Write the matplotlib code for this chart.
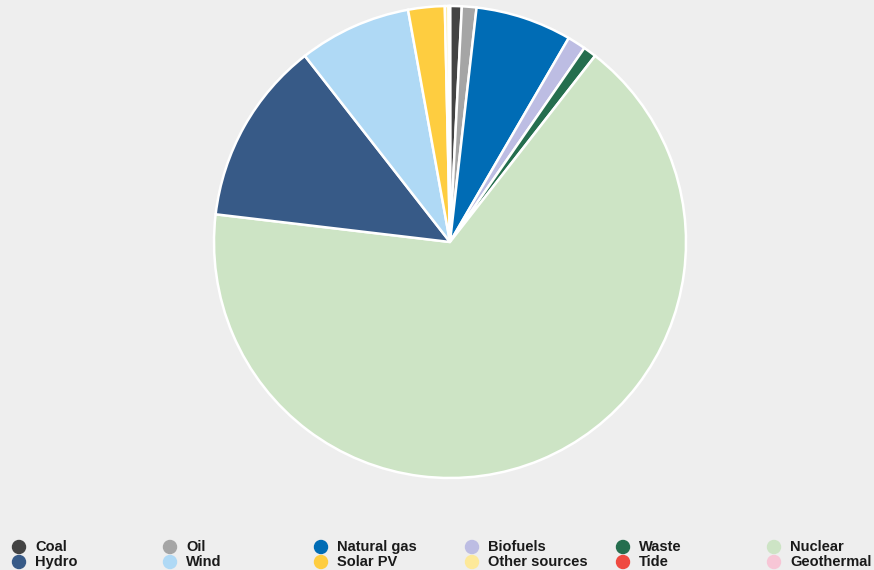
import matplotlib.pyplot as plt
from matplotlib.patches import Ellipse

# share of generation (percent)
labels = ['Coal', 'Oil', 'Natural gas', 'Biofuels', 'Waste', 'Nuclear',
          'Hydro', 'Wind', 'Solar PV', 'Other sources', 'Tide', 'Geothermal']
shares = [0.8, 1.0, 6.6, 1.25, 0.9, 66.4, 12.6, 7.7, 2.5, 0.25, 0.09, 0.01]
colors = ['#434343', '#a5a5a5', '#006cb5', '#bdbde3', '#256e4e', '#cde4c5',
          '#375a87', '#afd9f5', '#fecd40', '#fde99a', '#ef4a40', '#f7c6d6']

bg = '#eeeeee'
W, H = 874, 570
fig = plt.figure(figsize=(W / 100, H / 100), dpi=100, facecolor=bg)

# pie centre ~ (450, 242) px, radius ~236 px
cx, cy, r = 450, 242, 236
ax = fig.add_axes([(cx - r) / W, (H - cy - r) / H, 2 * r / W, 2 * r / H])
ax.set_facecolor(bg)
ax.pie(shares, colors=colors, startangle=90, counterclock=False,
       wedgeprops=dict(edgecolor='white', linewidth=1.8))
ax.set_xlim(-1.0, 1.0)
ax.set_ylim(-1.0, 1.0)
ax.axis('off')

# legend: 6 columns, 2 rows, filled row by row
for i, (lab, col) in enumerate(zip(labels, colors)):
    row, c = divmod(i, 6)
    x = 19 + c * 151
    y = 547 + row * 15
    fig.patches.append(Ellipse((x / W, 1 - y / H), 13 / W, 13 / H,
                               transform=fig.transFigure, color=col,
                               figure=fig))
    fig.text((x + 16) / W, 1 - y / H, lab, ha='left', va='center',
             fontsize=10.5, fontweight='bold', family='Liberation Sans',
             color='#1a1a1a')

fig.savefig('out.png', dpi=100, facecolor=bg)
